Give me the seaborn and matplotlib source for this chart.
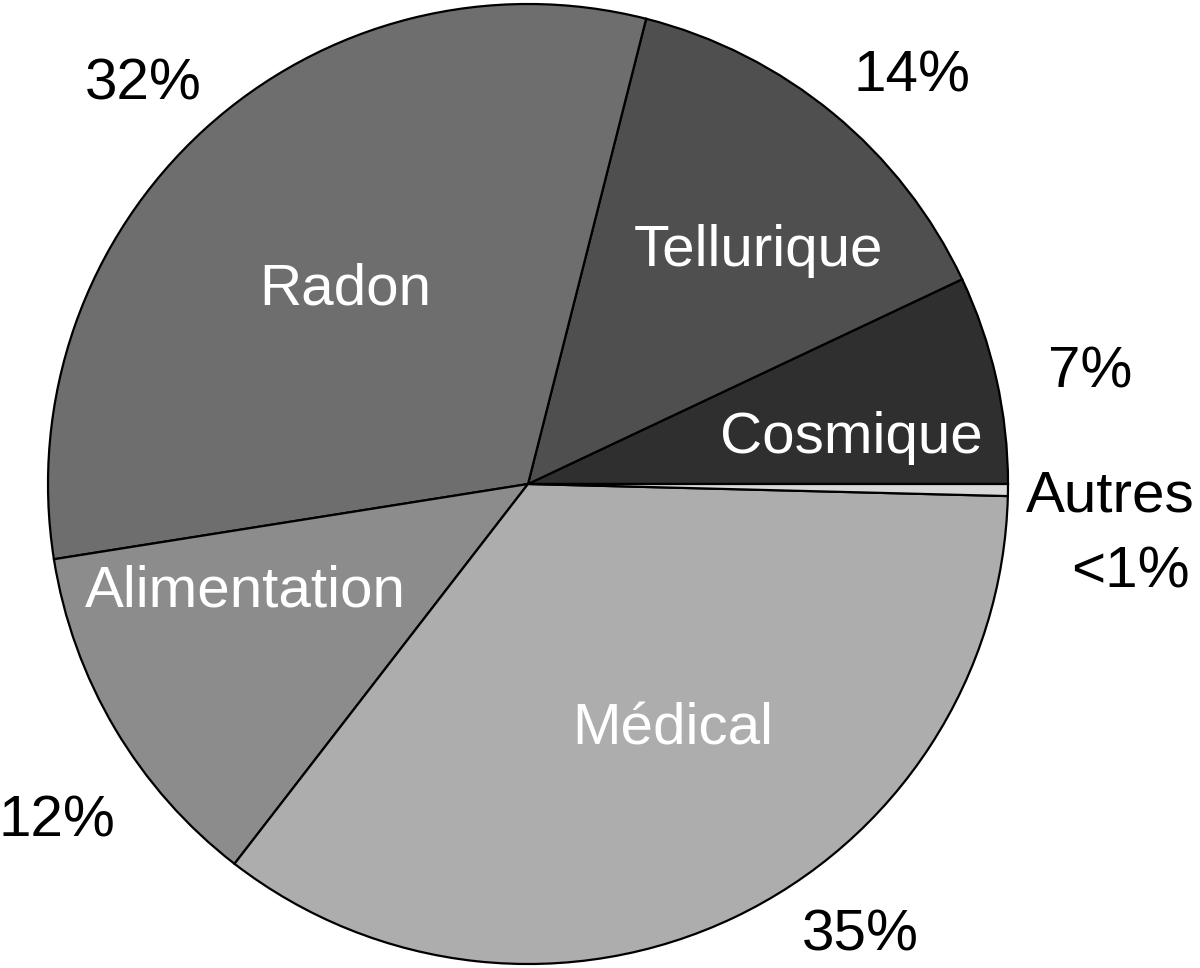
import matplotlib
matplotlib.use("Agg")
import matplotlib.pyplot as plt
import seaborn as sns

# sources of exposure, counter-clockwise from 3 o'clock
sources = ['Cosmique', 'Tellurique', 'Radon', 'Alimentation', 'Médical', 'Autres']
shares = [7, 14, 31.4, 12, 35, 0.4]
pct_labels = ['7%', '14%', '32%', '12%', '35%', '<1%']
greys = ['#2f2f2f', '#4f4f4f', '#6e6e6e', '#8c8c8c', '#adadad', '#d9d9d9']

# label placement in pie units (radius = 1), baseline anchored
name_pos = [(0.673, 0.065), (0.481, 0.454), (-0.381, 0.373), (-0.588, -0.256), (0.302, -0.542), (1.2125, -0.058)]
pct_pos = [(1.171, 0.202), (0.800, 0.817), (-0.802, 0.800), (-0.981, -0.735), (0.692, -0.972), (1.256, -0.215)]

sns.set_theme(style="white")
plt.rcParams['font.family'] = ['Liberation Sans', 'DejaVu Sans']

fig = plt.figure(figsize=(12, 9.68), dpi=100)
ax = fig.add_axes([0, 0, 1, 1])
wedges, _ = ax.pie(shares, colors=greys, startangle=0, counterclock=True,
                   wedgeprops=dict(edgecolor='black', linewidth=1.6))

for i, name in enumerate(sources):
    col = 'black' if name == 'Autres' else 'white'
    ax.text(name_pos[i][0], name_pos[i][1], name, color=col, fontsize=42,
            ha='center', va='baseline')
    ax.text(pct_pos[i][0], pct_pos[i][1], pct_labels[i], color='black', fontsize=42,
            ha='center', va='baseline')

# 480 px per unit, pie centre at (528, 484) px
ax.set_xlim(-528 / 480, (1200 - 528) / 480)
ax.set_ylim(-(968 - 484) / 480, 484 / 480)
ax.axis('off')
fig.savefig('out.png', dpi=100)
